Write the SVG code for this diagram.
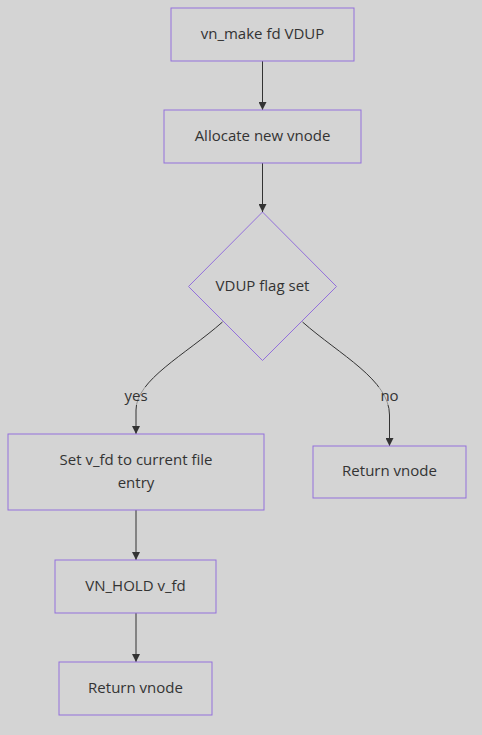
<svg xmlns="http://www.w3.org/2000/svg" width="482" height="735" viewBox="0 0 482 735">
<style>
.node rect, .node polygon { fill: #d4d4d4; stroke: #9370db; stroke-width: 1; }
.node text, .lbl text { font-family: "Open Sans", "Noto Sans", "DejaVu Sans", sans-serif; font-size: 15px; fill: #333; text-anchor: middle; dominant-baseline: central; }
.edge { fill: none; stroke: #333; stroke-width: 1; }
.lblbg { fill: #d4d4d4; opacity: 0.6; }
</style>
<defs>
<marker id="arr" viewBox="0 0 10 10" refX="10" refY="5" markerWidth="8" markerHeight="8" markerUnits="userSpaceOnUse" orient="auto">
<path d="M0,0 L10,5 L0,10 z" fill="#333"/>
</marker>
</defs>
<rect width="482" height="735" fill="#d4d4d4"/>
<g id="connectors">
<path class="edge" d="M262.5,61 L262.5,110" marker-end="url(#arr)"/>
<path class="edge" d="M262.5,163 L262.5,212" marker-end="url(#arr)"/>
<path class="edge" d="M222.5,322 C185,355 136,380 136,410 L136,434" marker-end="url(#arr)"/>
<path class="edge" d="M302.5,322 C340,355 389.5,380 389.5,415 L389.5,446" marker-end="url(#arr)"/>
<path class="edge" d="M136,510 L136,560" marker-end="url(#arr)"/>
<path class="edge" d="M136,613 L136,662" marker-end="url(#arr)"/>
</g>
<g id="label-yes" class="lbl">
<rect class="lblbg" x="122" y="387" width="28" height="18"/>
<text x="136" y="395">yes</text>
</g>
<g id="label-no" class="lbl">
<rect class="lblbg" x="378" y="387" width="22" height="18"/>
<text x="389.5" y="395">no</text>
</g>
<g id="n1" class="node">
<rect x="171" y="8" width="183" height="53"/>
<text x="262.5" y="33">vn_make fd VDUP</text>
</g>
<g id="n2" class="node">
<rect x="164" y="110" width="197" height="53"/>
<text x="262.5" y="135">Allocate new vnode</text>
</g>
<g id="n3" class="node">
<polygon points="262.5,212 336.5,286.5 262.5,360.5 188.5,286.5"/>
<text x="262.5" y="285">VDUP flag set</text>
</g>
<g id="n4" class="node">
<rect x="8" y="434" width="256" height="76"/>
<text x="136" y="459">Set v_fd to current file</text>
<text x="136" y="482">entry</text>
</g>
<g id="n5" class="node">
<rect x="313" y="446" width="153" height="52"/>
<text x="389.5" y="470">Return vnode</text>
</g>
<g id="n6" class="node">
<rect x="55" y="560" width="161" height="53"/>
<text x="135.5" y="585">VN_HOLD v_fd</text>
</g>
<g id="n7" class="node">
<rect x="59" y="662" width="153" height="53"/>
<text x="135.5" y="687">Return vnode</text>
</g>
</svg>
